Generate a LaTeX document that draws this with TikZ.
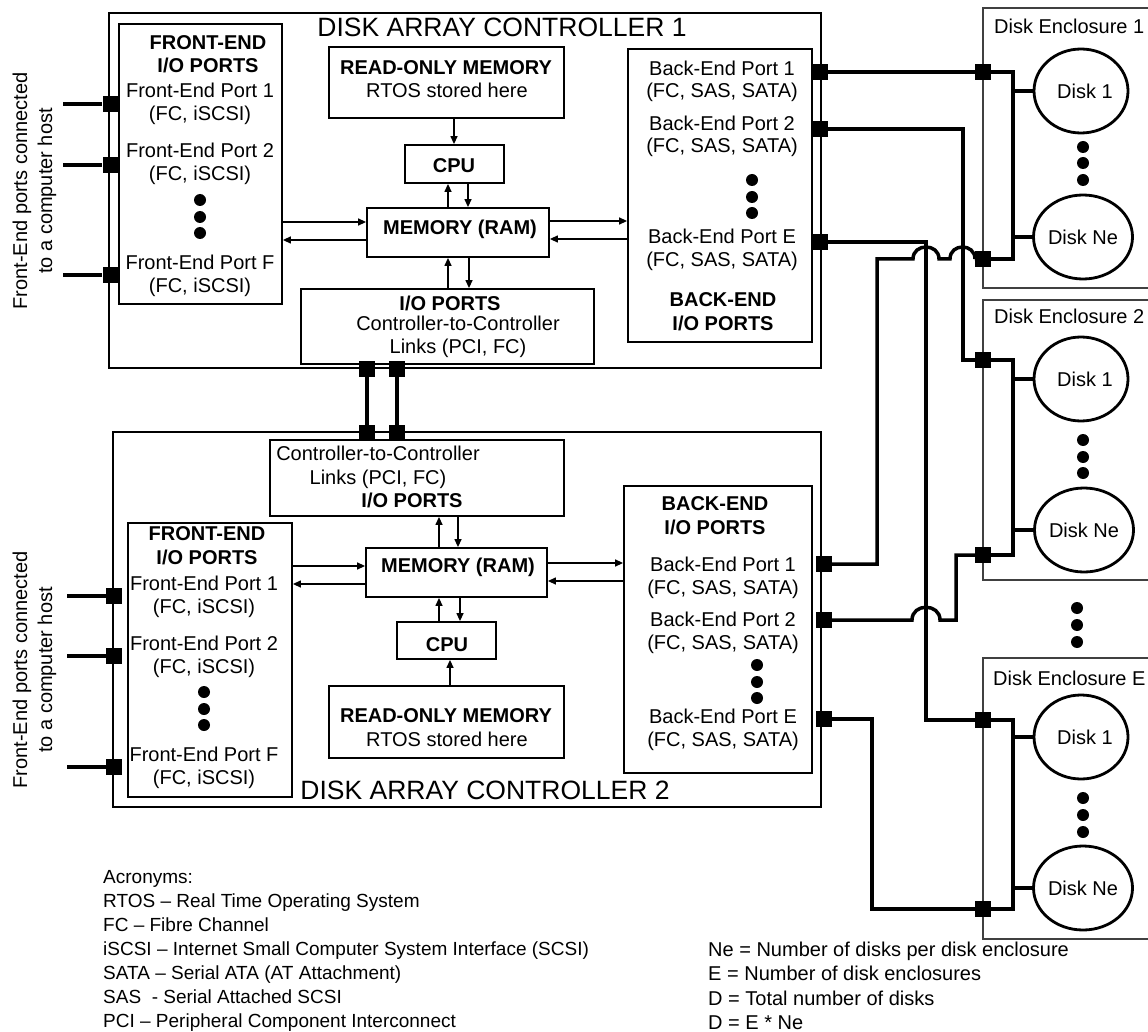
\documentclass[tikz,border=0pt]{standalone}
\usepackage{fontspec}
\setmainfont{Liberation Sans}
\usetikzlibrary{arrows.meta,fit,shapes.geometric}
\begin{document}
\begin{tikzpicture}[x=1pt,y=-1pt,
  box/.style={draw,line width=1.8pt,inner sep=0pt},
  t/.style={anchor=base,inner sep=0pt,font=\fontsize{20}{24}\selectfont},
  tb/.style={anchor=base,inner sep=0pt,font=\fontsize{20}{24}\selectfont\bfseries},
  ttl/.style={anchor=base,inner sep=0pt,font=\fontsize{26.5}{30}\selectfont},
  leg/.style={anchor=base west,inner sep=0pt,font=\fontsize{19}{23}\selectfont},
  legr/.style={anchor=base west,inner sep=0pt,font=\fontsize{20}{24}\selectfont},
  port/.style={fill=black,inner sep=0pt,minimum size=16pt},
  wire/.style={line width=3.5pt},
  arr/.style={line width=1.3pt,-{Triangle[length=8pt,width=7pt]}},
  dot/.style={circle,fill=black,inner sep=0pt,minimum size=12pt},
  disk/.style={ellipse,draw,line width=2.8pt,minimum width=94pt,minimum height=84pt,inner sep=0pt,font=\fontsize{20}{24}\selectfont},
  encl/.style={line width=1.3pt,draw=black!75},
  rot/.style={rotate=90,align=center,inner sep=0pt,font=\fontsize{20}{25}\selectfont},
]
\useasboundingbox (0,0) rectangle (1148,1032);

% ---------------- Controller 1 ----------------
\node[box,fit={(109,13)(821,368)}] (c1) {};
\node[box,fit={(119,24)(282,304)}] (fe1) {};
\node[box,fit={(329,47)(564,118)}] (rom1) {};
\node[box,fit={(405,145)(504,183)}] (cpu1) {};
\node[box,fit={(367,208)(549,257)}] (ram1) {};
\node[box,fit={(301,289)(594,364)}] (io1) {};
\node[box,fit={(628,49)(812,342)}] (be1) {};

\node[ttl] (c1t) at (502,37) {DISK ARRAY CONTROLLER 1};
\node[tb] (fe1h1) at (208,50) {FRONT-END};
\node[tb] (fe1h2) at (208,73) {I/O PORTS};
\node[t] (fe1a) at (200,98) {Front-End Port 1};
\node[t] (fe1b) at (200,120.5) {(FC, iSCSI)};
\node[t] (fe1c) at (200,158) {Front-End Port 2};
\node[t] (fe1d) at (200,180.5) {(FC, iSCSI)};
\node[dot] (fe1x) at (200,200) {};
\node[dot] (fe1y) at (200,217) {};
\node[dot] (fe1z) at (200,233) {};
\node[t] (fe1e) at (200,270) {Front-End Port F};
\node[t] (fe1f) at (200,292.5) {(FC, iSCSI)};

\node[tb] (rom1a) at (446,75) {READ-ONLY MEMORY};
\node[t] (rom1b) at (447,98) {RTOS stored here};
\node[tb] (cpu1a) at (454,173) {CPU};
\node[tb] (ram1a) at (460,235) {MEMORY (RAM)};
\node[tb] (io1a) at (450,310) {I/O PORTS};
\node[t] (io1b) at (458,330) {Controller-to-Controller};
\node[t] (io1c) at (458,353) {Links (PCI, FC)};

\node[t] (be1a) at (722,76) {Back-End Port 1};
\node[t] (be1b) at (722,98) {(FC, SAS, SATA)};
\node[t] (be1c) at (722,131) {Back-End Port 2};
\node[t] (be1d) at (722,153) {(FC, SAS, SATA)};
\node[dot] (be1x) at (752,180) {};
\node[dot] (be1y) at (752,197) {};
\node[dot] (be1z) at (752,213) {};
\node[t] (be1e) at (722,244) {Back-End Port E};
\node[t] (be1f) at (722,266) {(FC, SAS, SATA)};
\node[tb] (be1g) at (723,306) {BACK-END};
\node[tb] (be1h) at (723,330) {I/O PORTS};

\draw[arr] (fe1.east |- 0,222) -- (ram1.west |- 0,222);
\draw[arr] (ram1.west |- 0,240) -- (fe1.east |- 0,240);
\draw[arr] (ram1.east |- 0,221) -- (be1.west |- 0,221);
\draw[arr] (be1.west |- 0,239) -- (ram1.east |- 0,239);
\draw[arr] (rom1.south -| 454,0) -- (cpu1.north -| 454,0);
\draw[arr] (ram1.north -| 448,0) -- (cpu1.south -| 448,0);
\draw[arr] (cpu1.south -| 468,0) -- (ram1.north -| 468,0);
\draw[arr] (io1.north -| 448,0) -- (ram1.south -| 448,0);
\draw[arr] (ram1.south -| 469,0) -- (io1.north -| 469,0);

% ---------------- Controller 2 ----------------
\node[box,fit={(113,432)(821,807)}] (c2) {};
\node[box,fit={(270,440)(564,516)}] (io2) {};
\node[box,fit={(128,523)(292,797)}] (fe2) {};
\node[box,fit={(366,548)(547,597)}] (ram2) {};
\node[box,fit={(397,622)(496,659)}] (cpu2) {};
\node[box,fit={(329,686)(564,758)}] (rom2) {};
\node[box,fit={(624,486)(812,773)}] (be2) {};

\node[ttl] (c2t) at (485,799) {DISK ARRAY CONTROLLER 2};
\node[t] (io2a) at (378,460) {Controller-to-Controller};
\node[t] (io2b) at (378,484) {Links (PCI, FC)};
\node[tb] (io2c) at (412,507) {I/O PORTS};

\node[tb] (fe2h1) at (207,540) {FRONT-END};
\node[tb] (fe2h2) at (207,564) {I/O PORTS};
\node[t] (fe2a) at (204,590) {Front-End Port 1};
\node[t] (fe2b) at (204,613) {(FC, iSCSI)};
\node[t] (fe2c) at (204,650) {Front-End Port 2};
\node[t] (fe2d) at (204,673) {(FC, iSCSI)};
\node[dot] (fe2x) at (204,692) {};
\node[dot] (fe2y) at (204,709) {};
\node[dot] (fe2z) at (204,725) {};
\node[t] (fe2e) at (204,761) {Front-End Port F};
\node[t] (fe2f) at (204,784) {(FC, iSCSI)};

\node[tb] (ram2a) at (458,572) {MEMORY (RAM)};
\node[tb] (cpu2a) at (447,651) {CPU};
\node[tb] (rom2a) at (446,722) {READ-ONLY MEMORY};
\node[t] (rom2b) at (447,746) {RTOS stored here};

\node[tb] (be2g) at (715,510) {BACK-END};
\node[tb] (be2h) at (715,534) {I/O PORTS};
\node[t] (be2a) at (723,571) {Back-End Port 1};
\node[t] (be2b) at (723,594) {(FC, SAS, SATA)};
\node[t] (be2c) at (723,626) {Back-End Port 2};
\node[t] (be2d) at (723,649) {(FC, SAS, SATA)};
\node[dot] (be2x) at (757,665) {};
\node[dot] (be2y) at (757,682) {};
\node[dot] (be2z) at (757,698) {};
\node[t] (be2e) at (723,723) {Back-End Port E};
\node[t] (be2f) at (723,746) {(FC, SAS, SATA)};

\draw[arr] (fe2.east |- 0,566) -- (ram2.west |- 0,566);
\draw[arr] (ram2.west |- 0,584) -- (fe2.east |- 0,584);
\draw[arr] (ram2.east |- 0,563) -- (be2.west |- 0,563);
\draw[arr] (be2.west |- 0,581) -- (ram2.east |- 0,581);
\draw[arr] (ram2.north -| 439,0) -- (io2.south -| 439,0);
\draw[arr] (io2.south -| 458,0) -- (ram2.north -| 458,0);
\draw[arr] (cpu2.north -| 439,0) -- (ram2.south -| 439,0);
\draw[arr] (ram2.south -| 460,0) -- (cpu2.north -| 460,0);
\draw[arr] (rom2.north -| 450,0) -- (cpu2.south -| 450,0);

% ---------------- Host side ----------------
\node[rot] (host1) at (34.5,191) {Front-End ports connected\\to a computer host};
\node[rot] (host2) at (34.5,670) {Front-End ports connected\\to a computer host};

% ---------------- Disk enclosures ----------------
\draw[encl] (1148,8) -- (983,8) -- (983,288) -- (1148,288);
\draw[encl] (1148,300) -- (983,300) -- (983,580) -- (1148,580);
\draw[encl] (1148,658) -- (983,658) -- (983,939) -- (1148,939);
\node[t,anchor=base west] (en1) at (994,34) {Disk Enclosure 1};
\node[t,anchor=base west] (en2) at (994,323) {Disk Enclosure 2};
\node[t,anchor=base west] (enE) at (993,685) {Disk Enclosure E};

\node[disk] (d11) at (1081,91) {\hspace*{8pt}Disk 1};
\node[disk] (d1n) at (1083,237) {Disk Ne};
\node[disk] (d21) at (1081,379) {\hspace*{8pt}Disk 1};
\node[disk] (d2n) at (1084,530) {Disk Ne};
\node[disk] (dE1) at (1081,737) {\hspace*{8pt}Disk 1};
\node[disk] (dEn) at (1083,888) {Disk Ne};

\foreach \n/\x/\y in {k1a/1083/147,k1b/1083/163,k1c/1083/180,
                      k2a/1083/440,k2b/1083/457,k2c/1083/473,
                      kEa/1083/798,kEb/1083/815,kEc/1083/832,
                      kma/1077/608,kmb/1077/625,kmc/1077/642}
  \node[dot] (\n) at (\x,\y) {};

% ---------------- Ports ----------------
\node[port] (fp1a) at (110.5,104) {};
\node[port] (fp1b) at (110.5,165) {};
\node[port] (fp1c) at (110.5,275) {};
\node[port] (fp2a) at (114,596) {};
\node[port] (fp2b) at (114,656) {};
\node[port] (fp2c) at (114,767) {};
\node[port] (bp1a) at (820,72) {};
\node[port] (bp1b) at (820,129) {};
\node[port] (bp1c) at (820,242) {};
\node[port] (bp2a) at (824,564) {};
\node[port] (bp2b) at (824,620) {};
\node[port] (bp2c) at (824,719) {};
\node[port] (lk1a) at (367,369) {};
\node[port] (lk1b) at (397,369) {};
\node[port] (lk2a) at (367,433) {};
\node[port] (lk2b) at (397,433) {};
\node[port] (e1a) at (983,72) {};
\node[port] (e1b) at (983,259) {};
\node[port] (e2a) at (983,360) {};
\node[port] (e2b) at (983,555) {};
\node[port] (eEa) at (983,720) {};
\node[port] (eEb) at (983,909) {};

\coordinate (h1a) at (63,104);
\coordinate (h1b) at (63,165);
\coordinate (h1c) at (63,275);
\coordinate (h2a) at (67,596);
\coordinate (h2b) at (67,656);
\coordinate (h2c) at (67,767);

% ---------------- Wires ----------------
\draw[wire] (h1a) -- (fp1a);
\draw[wire] (h1b) -- (fp1b);
\draw[wire] (h1c) -- (fp1c);
\draw[wire] (h2a) -- (fp2a);
\draw[wire] (h2b) -- (fp2b);
\draw[wire] (h2c) -- (fp2c);
\draw[wire] (lk1a) -- (lk2a);
\draw[wire] (lk1b) -- (lk2b);

\draw[wire] (bp1a) -- (e1a);
\draw[wire] (bp1b) -| (963,0 |- e2a) -- (e2a);
\draw[wire] (bp1c) -| (926,0 |- eEa) -- (eEa);
\draw[wire] (bp2a) -| (877,259) -- (913,259) .. controls (913,243) and (939,243) .. (939,259)
   -- (950,259) .. controls (950,243) and (975,243) .. (975,259) -- (e1b.west);
\draw[wire] (bp2b) -- (912,620) .. controls (912,603) and (940,603) .. (940,620) -- (956,620) |- (e2b);
\draw[wire] (bp2c) -| (872,0 |- eEb) -- (eEb);

\draw[wire] (e1a) -| (1013,0 |- e1b) -- (e1b);
\draw[wire] (e2a) -| (1013,0 |- e2b) -- (e2b);
\draw[wire] (eEa) -| (1013,0 |- eEb) -- (eEb);
\foreach \d in {d11,d1n,d21,d2n,dE1,dEn}
  \draw[wire] (\d.west) -- (\d.west -| 1013,0);

% ---------------- Legends ----------------
\node[leg] (acr0) at (103,883) {Acronyms:};
\node[leg] (acr1) at (103,907) {RTOS – Real Time Operating System};
\node[leg] (acr2) at (103,931) {FC – Fibre Channel};
\node[leg] (acr3) at (103,955) {iSCSI – Internet Small Computer System Interface (SCSI)};
\node[leg] (acr4) at (103,979) {SATA – Serial ATA (AT Attachment)};
\node[leg] (acr5) at (103,1003) {SAS\ \ - Serial Attached SCSI};
\node[leg] (acr6) at (103,1027) {PCI – Peripheral Component Interconnect};

\node[legr] (def1) at (708,956) {Ne = Number of disks per disk enclosure};
\node[legr] (def2) at (708,980.5) {E = Number of disk enclosures};
\node[legr] (def3) at (708,1005) {D = Total number of disks};
\node[legr] (def4) at (708,1029) {D = E * Ne};
\end{tikzpicture}
\end{document}
